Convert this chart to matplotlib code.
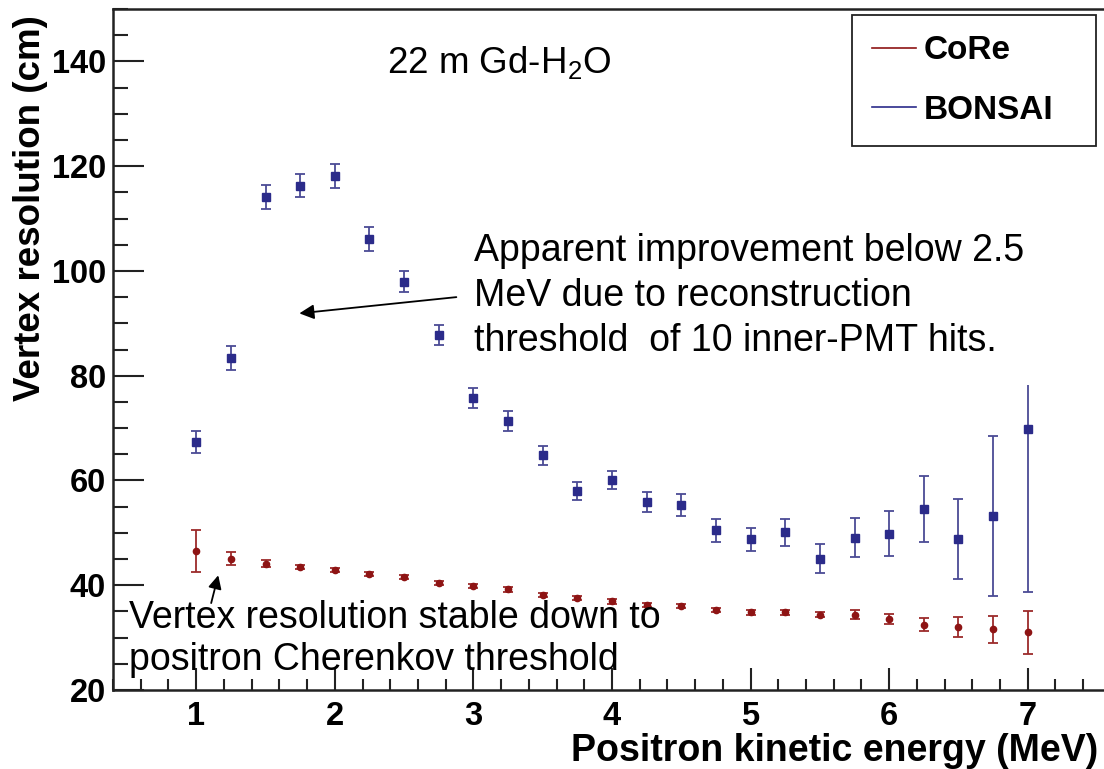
import matplotlib
matplotlib.use('Agg')
import matplotlib.pyplot as plt
from matplotlib.lines import Line2D
from matplotlib.ticker import MultipleLocator
import numpy as np

plt.rcParams['font.family'] = ['Liberation Sans', 'DejaVu Sans']
plt.rcParams['mathtext.fontset'] = 'custom'
plt.rcParams['mathtext.rm'] = 'Liberation Sans'
plt.rcParams['mathtext.it'] = 'Liberation Sans:italic'

# Positron kinetic energy bins (MeV)
energy = [1.0, 1.25, 1.5, 1.75, 2.0, 2.25, 2.5, 2.75, 3.0, 3.25, 3.5, 3.75, 4.0,
          4.25, 4.5, 4.75, 5.0, 5.25, 5.5, 5.75, 6.0, 6.25, 6.5, 6.75, 7.0]

# CoRe vertex resolution (cm) and errors
core_res = [46.6, 45.1, 44.1, 43.5, 42.9, 42.2, 41.5, 40.4, 39.8, 39.2, 38.2, 37.6, 36.9,
            36.2, 36.1, 35.2, 34.8, 34.8, 34.4, 34.4, 33.6, 32.5, 32.1, 31.6, 31.0]
core_err = [4.0, 1.2, 0.7, 0.4, 0.4, 0.4, 0.4, 0.4, 0.4, 0.4, 0.4, 0.4, 0.4,
            0.4, 0.4, 0.4, 0.4, 0.4, 0.4, 0.8, 1.0, 1.3, 1.9, 2.6, 4.1]

# BONSAI vertex resolution (cm) with lower / upper errors
bonsai_res = [67.3, 83.3, 114.1, 116.3, 118.2, 106.1, 97.9, 87.7, 75.8, 71.3, 64.8, 58.0, 60.1,
              55.9, 55.3, 50.5, 48.8, 50.1, 45.1, 49.1, 49.8, 54.6, 48.8, 53.2, 69.8]
bonsai_lo = [2.1, 2.3, 2.3, 2.2, 2.3, 2.3, 2.0, 1.9, 1.9, 1.9, 1.8, 1.8, 1.7,
             1.9, 2.1, 2.2, 2.2, 2.6, 2.8, 3.8, 4.3, 6.3, 7.6, 15.3, 31.1]
bonsai_hi = [2.1, 2.3, 2.3, 2.2, 2.3, 2.3, 2.0, 1.9, 1.9, 1.9, 1.8, 1.8, 1.7,
             1.9, 2.1, 2.2, 2.2, 2.6, 2.8, 3.8, 4.3, 6.3, 7.6, 15.3, 8.4]

red = '#8e1414'
red_bar = '#9c2b2b'
blue = '#2b2b8a'
blue_bar = '#4b4b95'

fig = plt.figure(figsize=(11.04, 7.69), dpi=100)
ax = fig.add_axes([0.1024, 0.1027, 0.8976, 0.8856])

ax.errorbar(energy, core_res, yerr=core_err, fmt='o', ms=4.5, color=red, ecolor=red_bar,
            elinewidth=1.3, capsize=3.6, capthick=1.3)
eb = ax.errorbar(energy, bonsai_res, yerr=[bonsai_lo, bonsai_hi], fmt='s', ms=5.8,
                 color=blue, ecolor=blue_bar, elinewidth=1.3, capsize=3.6, capthick=1.3)
# last BONSAI bar runs off without an upper cap
upper_cap = eb[1][1]
xs, ys = upper_cap.get_data()
upper_cap.set_data(xs[:-1], ys[:-1])

ax.set_xlim(0.4, 7.55)
ax.set_ylim(20, 150)
ax.xaxis.set_major_locator(MultipleLocator(1))
ax.xaxis.set_minor_locator(MultipleLocator(0.2))
ax.yaxis.set_major_locator(MultipleLocator(20))
ax.yaxis.set_minor_locator(MultipleLocator(5))
ax.set_xticks([1, 2, 3, 4, 5, 6, 7])
ax.tick_params(axis='both', which='both', direction='in', width=1.5, color='#222222',
               labelsize=23.5, top=False, right=False)
ax.tick_params(axis='y', which='major', length=22, pad=5)
ax.tick_params(axis='y', which='minor', length=11)
ax.tick_params(axis='x', which='major', length=16, pad=8)
ax.tick_params(axis='x', which='minor', length=8)
for lab in ax.get_xticklabels() + ax.get_yticklabels():
    lab.set_fontweight('bold')
for side in ['left', 'bottom', 'top']:
    ax.spines[side].set_linewidth(1.8)
    ax.spines[side].set_color('#222222')
ax.spines['right'].set_visible(False)

ax.set_xlabel('Positron kinetic energy (MeV)', fontsize=27, fontweight='bold', loc='right')
ax.xaxis.set_label_coords(0.994, -0.09)
ax.xaxis.label.set_va('center')
ax.set_ylabel('Vertex resolution (cm)', fontsize=26.5, fontweight='bold', loc='top')
ax.yaxis.set_label_coords(-0.066, 0.991)

ax.text(2.38, 139.8, '22 m Gd-H$_2$O', fontsize=26.5, va='center', ha='left')

ax.text(3.007, 107.2, 'Apparent improvement below 2.5\nMeV due to reconstruction\nthreshold  of 10 inner-PMT hits.',
        fontsize=27, va='top', ha='left', linespacing=1.31)
ax.annotate('', xy=(1.744, 91.9), xytext=(2.877, 95.0),
            arrowprops=dict(arrowstyle='-|>', color='black', lw=1.3, mutation_scale=22,
                            shrinkA=0, shrinkB=0))
ax.annotate('', xy=(1.159, 41.9), xytext=(1.108, 36.6),
            arrowprops=dict(arrowstyle='-|>', color='black', lw=1.3, mutation_scale=20,
                            shrinkA=0, shrinkB=0))
ax.text(0.516, 37.1, 'Vertex resolution stable down to\npositron Cherenkov threshold',
        fontsize=27, va='top', ha='left', linespacing=1.2)

handles = [Line2D([], [], color=red, lw=1.2), Line2D([], [], color=blue, lw=1.2)]
leg = fig.legend(handles, ['CoRe', 'BONSAI'], loc='upper left',
                 bbox_to_anchor=(0.772, 0.980, 0.221, 0.0), mode='expand',
                 prop={'weight': 'bold', 'size': 24}, handlelength=1.3, handletextpad=0.25,
                 borderpad=0.6, labelspacing=0.86, fancybox=False, framealpha=1,
                 edgecolor='#222222', borderaxespad=0)
leg.get_frame().set_linewidth(1.3)

fig.savefig('out.png', dpi=100)
